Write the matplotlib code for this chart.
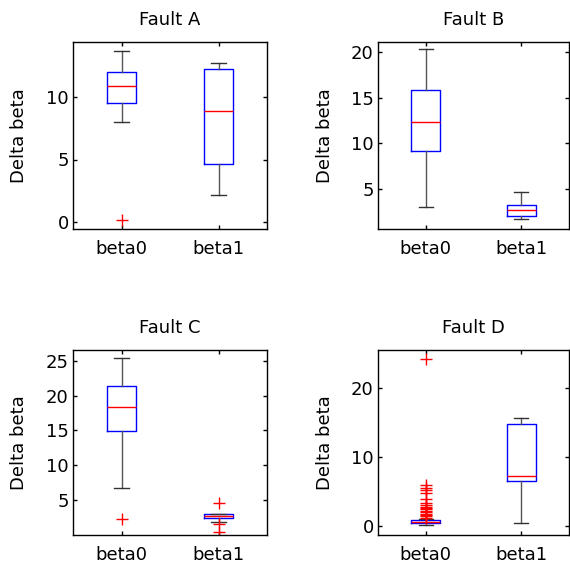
import matplotlib
matplotlib.use("Agg")
import matplotlib.pyplot as plt

plt.rcParams["font.family"] = ["DejaVu Sans"]
plt.rcParams["font.size"] = 13

labels = ["beta0", "beta1"]
faults = ["Fault A", "Fault B", "Fault C", "Fault D"]

# box statistics: [beta0, beta1]
whislo = [[7.97, 2.14], [3.1, 1.73], [6.72, 1.88], [0.15, 0.4]]
q1 = [[9.54, 4.67], [9.15, 2.06], [14.9, 2.37], [0.45, 6.45]]
med = [[10.86, 8.9], [12.36, 2.75], [18.3, 2.66], [0.62, 7.2]]
q3 = [[12.03, 12.27], [15.8, 3.29], [21.3, 2.94], [0.85, 14.7]]
whishi = [[13.7, 12.7], [20.26, 4.67], [25.39, 3.03], [1.0, 15.6]]
fliers = [
    [[0.15], []],
    [[], []],
    [[2.3], [4.55, 1.5, 0.4]],
    [[24.2, 5.9, 5.5, 5.2, 4.8, 3.9, 3.3, 3.0, 2.8, 2.6, 2.4, 2.2,
      2.0, 1.8, 1.6, 1.4, 1.2], []],
]

ylims = [(-0.56, 14.4), (0.68, 21.06), (-0.03, 26.54), (-1.3, 25.45)]
yticks = [[0, 5, 10], [5, 10, 15, 20], [5, 10, 15, 20, 25], [0, 10, 20]]

# axes rectangles in pixels: left, top, right, bottom
W, H = 570, 568
rects = [(73, 42, 267, 229), (378, 42, 569, 229),
         (73, 350, 267, 535), (378, 350, 569, 535)]

fig = plt.figure(figsize=(W / 100, H / 100), dpi=100)

for i, name in enumerate(faults):
    l, t, r, b = rects[i]
    ax = fig.add_axes([l / W, (H - b) / H, (r - l) / W, (b - t) / H])
    stats = []
    for j, lab in enumerate(labels):
        stats.append(dict(label=lab, med=med[i][j], q1=q1[i][j], q3=q3[i][j],
                          whislo=whislo[i][j], whishi=whishi[i][j],
                          fliers=fliers[i][j]))
    ax.bxp(stats, positions=[1, 2], widths=0.3, capwidths=0.15,
           boxprops=dict(color="#0000ff", linewidth=1),
           medianprops=dict(color="#ff0000", linewidth=1),
           whiskerprops=dict(color="#555555", linewidth=1),
           capprops=dict(color="#333333", linewidth=1),
           flierprops=dict(marker="+", markeredgecolor="#ff0000",
                           markersize=9, markeredgewidth=1, linestyle="none"))
    ax.set_xlim(0.5, 2.5)
    ax.set_ylim(*ylims[i])
    ax.set_yticks(yticks[i])
    ax.set_xticks([1, 2])
    ax.set_xticklabels(labels)
    ax.tick_params(direction="in", top=True, right=True, length=3, width=1)
    ax.tick_params(axis="x", pad=8)
    ax.tick_params(axis="y", pad=3)
    for sp in ax.spines.values():
        sp.set_linewidth(1)
    ax.set_title(name, pad=12, fontsize=13)
    ax.set_ylabel("Delta beta")
    ax.yaxis.set_label_coords(-0.23, 0.5)

fig.savefig("out.png", dpi=100)
